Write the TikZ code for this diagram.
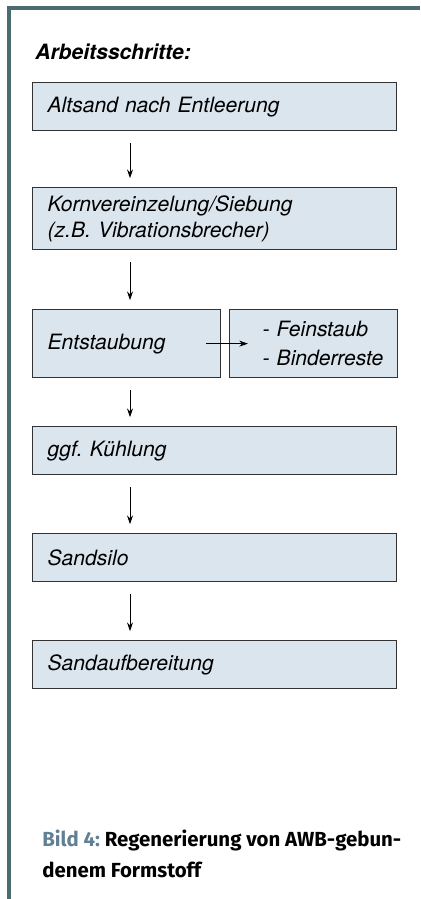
\documentclass[tikz,border=0pt]{standalone}
\usepackage{fontspec}
\setmainfont{TeX Gyre Heros}
\newfontfamily\capfont{Fira Sans}
\usetikzlibrary{arrows.meta}
\frenchspacing
\definecolor{awb_frame}{rgb}{0.30, 0.42, 0.44}
\definecolor{awb_box}{rgb}{0.86, 0.90, 0.93}
\definecolor{awb_line}{rgb}{0.20, 0.20, 0.20}
\definecolor{awb_caption}{rgb}{0.38, 0.50, 0.58}

\begin{document}
\begin{tikzpicture}[x=0.025cm, y=-0.025cm,
    stepbox/.style={rectangle, draw=awb_line, line width=0.9pt, fill=awb_box, anchor=north west,
      inner xsep=0.375cm, inner ysep=0pt, align=left, font=\fontsize{15}{19}\selectfont\itshape},
    widebox/.style={minimum width=9.1cm, text width=8.35cm, minimum height=1.2cm},
    flow/.style={black, line width=0.6pt, -{Stealth[length=2.2mm, width=1.5mm]},
      shorten <=0.3cm, shorten >=0.22cm}]
    % Page area (420 x 899 px), y runs downwards
    \useasboundingbox (0,0) rectangle (420,899);

    % Frame: only the top and left edges are visible
    \draw[awb_frame, line width=2.2pt] (420,8) -- (9,8) -- (9,899);

    % Heading
    \node[anchor=west, inner sep=0pt, font=\fontsize{15}{18}\selectfont\bfseries\itshape] (title)
      at (35,52) {Arbeitsschritte:};

    % Working steps
    \node[stepbox, widebox] (altsand) at (32,82) {Altsand nach Entleerung};
    \node[stepbox, widebox, minimum height=1.55cm, font=\fontsize{15}{18.5}\selectfont\itshape] (korn)
      at (32,187) {Kornvereinzelung/Siebung\\(z.B. Vibrationsbrecher)};
    \node[stepbox, minimum width=4.7cm, text width=3.95cm, minimum height=1.7cm] (staub)
      at (32,309) {Entstaubung};
    \node[stepbox, inner xsep=0.325cm, text width=3.55cm, minimum height=1.7cm,
      font=\fontsize{15}{20.5}\selectfont\itshape] (rest)
      at (229,309) {\hspace*{0.5cm}- Feinstaub\\\hspace*{0.5cm}-~Binderreste};
    \node[stepbox, widebox] (kuehl) at (32,426) {ggf. K\"uhlung};
    \node[stepbox, widebox] (silo) at (32,533) {Sandsilo};
    \node[stepbox, widebox] (aufb) at (32,640) {Sandaufbereitung};

    % Arrows down the left column
    \coordinate (ax) at (130,0);
    \draw[flow] (altsand.south -| ax) -- (korn.north -| ax);
    \draw[flow] (korn.south -| ax) -- (staub.north -| ax);
    \draw[flow] (staub.south -| ax) -- (kuehl.north -| ax);
    \draw[flow] (kuehl.south -| ax) -- (silo.north -| ax);
    \draw[flow] (silo.south -| ax) -- (aufb.north -| ax);

    % Side output of the dedusting
    \draw[flow, shorten <=0pt, shorten >=0pt] ([xshift=-0.375cm]staub.east) -- ([xshift=0.475cm]rest.west);

    % Caption
    \node[anchor=north west, inner sep=0pt, align=left, font=\capfont\bfseries\fontsize{14.5}{21.5}\selectfont]
      (caption) at (42,830) {{\color{awb_caption}Bild 4:} Regenerierung von AWB-gebun-\\denem Formstoff};

\end{tikzpicture}
\end{document}
